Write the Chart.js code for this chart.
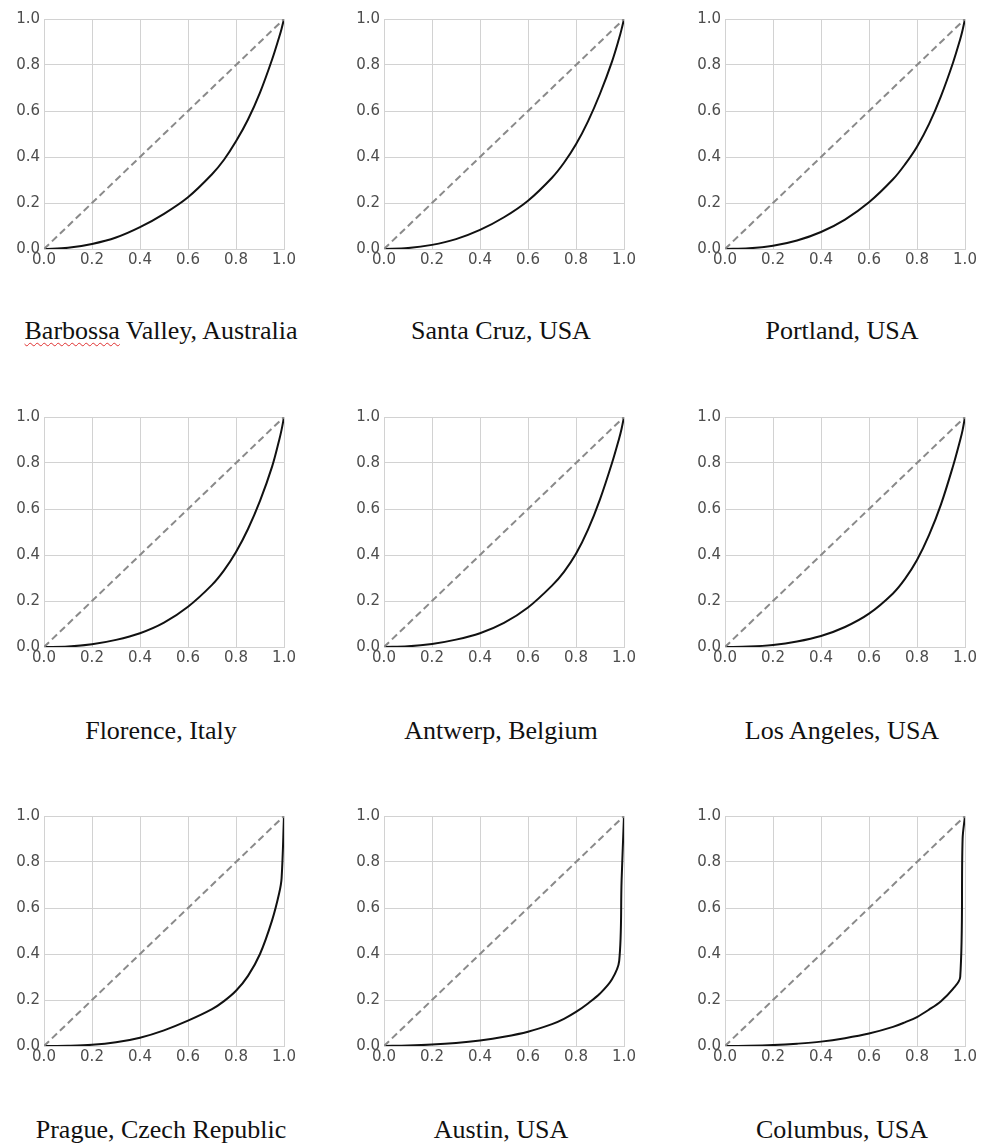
<!DOCTYPE html>
<html>
<head>
<meta charset="utf-8">
<script src="https://cdn.jsdelivr.net/npm/chart.js@4.4.1/dist/chart.umd.min.js"></script>
<style>
  body { margin: 0; background: #fff; width: 987px; height: 1143px; position: relative; overflow: hidden; }
  canvas { position: absolute; }
  .lbl { position: absolute; width: 320px; text-align: center; white-space: nowrap;
         font: 26px "Liberation Serif", "Times New Roman", serif; line-height: 26px; color: #111; }
  .typo { text-decoration: underline wavy #e03030; text-decoration-thickness: 1px; text-underline-offset: 3px; }
</style>
</head>
<body>
<script>
// cumulative share of population (x) shared by every panel
const popShare = [0, 0.1, 0.2, 0.3, 0.4, 0.5, 0.6, 0.7, 0.75, 0.8, 0.85, 0.9, 0.95, 0.98, 0.99, 1.0];

// cumulative share (y)
const barbossaY   = [0, 0.005, 0.022, 0.05, 0.095, 0.153, 0.225, 0.325, 0.388, 0.468, 0.563, 0.68, 0.823, 0.922, 0.958, 1.0];
const santaCruzY  = [0, 0.004, 0.018, 0.043, 0.083, 0.138, 0.21, 0.31, 0.375, 0.455, 0.555, 0.675, 0.815, 0.917, 0.956, 1.0];
const portlandY   = [0, 0.003, 0.014, 0.037, 0.074, 0.128, 0.203, 0.303, 0.368, 0.445, 0.543, 0.665, 0.81, 0.912, 0.952, 1.0];
const florenceY   = [0, 0.002, 0.012, 0.031, 0.06, 0.106, 0.175, 0.27, 0.333, 0.413, 0.513, 0.635, 0.783, 0.90, 0.945, 1.0];
const antwerpY    = [0, 0.003, 0.013, 0.032, 0.06, 0.105, 0.172, 0.267, 0.327, 0.405, 0.51, 0.642, 0.80, 0.908, 0.949, 1.0];
const losAngelesY = [0, 0.002, 0.009, 0.024, 0.048, 0.087, 0.145, 0.233, 0.296, 0.378, 0.486, 0.62, 0.786, 0.90, 0.943, 1.0];
const pragueY     = [0, 0.001, 0.005, 0.016, 0.036, 0.068, 0.11, 0.16, 0.195, 0.24, 0.305, 0.40, 0.545, 0.665, 0.73, 1.0];
const austinY     = [0, 0.002, 0.006, 0.013, 0.024, 0.04, 0.062, 0.095, 0.118, 0.148, 0.185, 0.228, 0.29, 0.37, 0.72, 1.0];
const columbusY   = [0, 0.001, 0.004, 0.010, 0.019, 0.034, 0.054, 0.083, 0.103, 0.126, 0.158, 0.195, 0.248, 0.30, 0.90, 1.0];

const cityNames = ['Barbossa Valley, Australia', 'Santa Cruz, USA', 'Portland, USA',
                   'Florence, Italy', 'Antwerp, Belgium', 'Los Angeles, USA',
                   'Prague, Czech Republic', 'Austin, USA', 'Columbus, USA'];
const citySeries = [barbossaY, santaCruzY, portlandY, florenceY, antwerpY, losAngelesY, pragueY, austinY, columbusY];

const equalityLine = [0, 1];

const colLeft = [4, 344, 685];
const rowTop = [6, 404, 803];
const labelTop = [318, 718, 1117];
const GRID = '#d2d2d2', TICK = '#4d4d4d';

function makePanel(i) {
  const col = i % 3, row = Math.floor(i / 3);
  const cv = document.createElement('canvas');
  cv.width = 295; cv.height = 265;
  cv.style.left = colLeft[col] + 'px';
  cv.style.top = rowTop[row] + 'px';
  document.body.appendChild(cv);

  const lbl = document.createElement('div');
  lbl.className = 'lbl';
  lbl.style.left = (colLeft[col] + 40 + 120 - 3 - 160) + 'px';
  lbl.style.top = labelTop[row] + 'px';
  if (i === 0) lbl.innerHTML = '<span class="typo">Barbossa</span> Valley, Australia';
  else lbl.textContent = cityNames[i];
  document.body.appendChild(lbl);

  const ys = citySeries[i];
  new Chart(cv, {
    type: 'line',
    data: {
      datasets: [
        { data: equalityLine.map(v => ({ x: v, y: v })), borderColor: '#8a8a8a', borderWidth: 2,
          borderDash: [7, 4], pointRadius: 0, fill: false },
        { data: popShare.map((x, k) => ({ x, y: ys[k] })), borderColor: '#111', borderWidth: 2,
          pointRadius: 0, fill: false, tension: 0.35 }
      ]
    },
    options: {
      responsive: false, animation: false, devicePixelRatio: 1,
      layout: { padding: { top: 10, right: 15, left: 0, bottom: 0 } },
      plugins: { legend: { display: false }, tooltip: { enabled: false } },
      scales: {
        x: {
          type: 'linear', min: 0, max: 1,
          afterFit: s => { s.height = 22; },
          grid: { color: GRID, lineWidth: 1, drawTicks: false },
          border: { color: GRID, width: 1 },
          ticks: { stepSize: 0.2, autoSkip: false, maxRotation: 0, padding: 2, color: TICK,
                   font: { family: 'DejaVu Sans', size: 15 }, callback: v => v.toFixed(1) }
        },
        y: {
          min: 0, max: 1,
          afterFit: s => { s.width = 40; },
          grid: { color: GRID, lineWidth: 1, drawTicks: false },
          border: { color: GRID, width: 1 },
          ticks: { stepSize: 0.2, padding: 4, color: TICK,
                   font: { family: 'DejaVu Sans', size: 15 }, callback: v => v.toFixed(1) }
        }
      }
    }
  });
}

for (let i = 0; i < 9; i++) makePanel(i);
</script>
</body>
</html>
